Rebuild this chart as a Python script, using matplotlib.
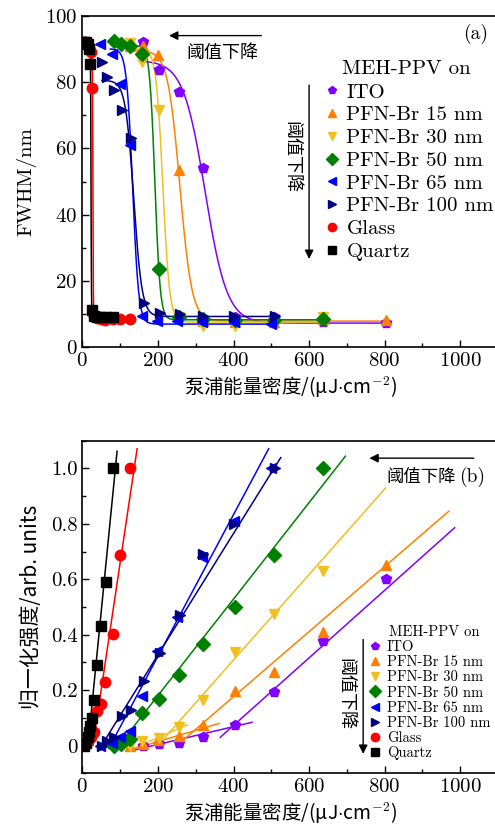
import numpy as np
import matplotlib
matplotlib.use('Agg')
import matplotlib.pyplot as plt
from matplotlib.lines import Line2D
from matplotlib.ticker import MultipleLocator

plt.rcParams['font.family'] = ['cmr10', 'Noto Sans CJK SC']
plt.rcParams['mathtext.fontset'] = 'cm'
plt.rcParams['axes.formatter.use_mathtext'] = True
plt.rcParams['axes.unicode_minus'] = False

# series: MEH-PPV on ...
names = ['ITO', 'PFN-Br 15 nm', 'PFN-Br 30 nm', 'PFN-Br 50 nm',
         'PFN-Br 65 nm', 'PFN-Br 100 nm', 'Glass', 'Quartz']
colors = ['#8000ff', '#ff8000', '#f0c020', '#008000',
          '#0000ff', '#000080', '#ff0000', '#000000']
markers = ['p', '^', 'v', 'D', '<', '>', 'o', 's']

# pump fluence (uJ/cm2)
ito_x = [160, 203, 257, 319, 403, 506, 638, 804]
p15_x = [125, 160, 200, 256, 320, 403, 506, 638, 803]
p30_x = [127, 158, 202, 255, 319, 403, 506, 638]
p50_x = [83, 102, 127, 158, 203, 255, 320, 403, 506, 638]
p65_x = [48, 78, 100, 125, 158, 197, 250, 317, 400, 500]
p100_x = [52, 65, 83, 105, 130, 162, 205, 259, 319, 400, 510]
glass_x = [4, 8, 13, 17, 22, 26, 30, 39, 50, 61, 80, 100, 127]
quartz_x = [5, 10, 14, 17, 21, 25, 31, 38, 50, 62, 80]

# FWHM (nm)
ito_fwhm = [92, 83.5, 77, 54, 9.2, 9.0, 7.6, 7.2]
p15_fwhm = [91, 91, 88, 53.5, 8.0, 7.7, 7.7, 8.5, 8.3]
p30_fwhm = [91.7, 86, 71.5, 9.0, 6.4, 6.5, 7.5, 9.2]
p50_fwhm = [92.5, 91.5, 91, 88.5, 23.6, 9.0, 8.5, 8.2, 8.3, 8.5]
p65_fwhm = [91.5, 88.5, 79.5, 61, 9.4, 7.9, 7.9, 7.5, 7.5, 7.0]
p100_fwhm = [86, 81.5, 77.6, 71.6, 63.2, 13.4, 10.4, 9.9, 9.4, 9.4, 9.4]
glass_fwhm = [92, 92, 91.7, 90.5, 89, 78.3, 9.5, 8.8, 8.5, 8.3, 8.5, 8.6, 8.4]
quartz_fwhm = [92, 92, 91.5, 90, 85.5, 11.2, 9.5, 9.2, 9.0, 9.0, 9.0]

# normalized intensity
ito_int = [0.0, 0.004, 0.01, 0.03, 0.076, 0.195, 0.377, 0.60]
p15_int = [0.0, 0.005, 0.02, 0.036, 0.076, 0.196, 0.265, 0.41, 0.65]
p30_int = [0.0, 0.018, 0.028, 0.066, 0.165, 0.337, 0.475, 0.63]
p50_int = [0.0, 0.006, 0.024, 0.117, 0.168, 0.253, 0.367, 0.50, 0.686, 1.0]
p65_int = [0.0, 0.01, 0.03, 0.054, 0.18, 0.343, 0.463, 0.68, 0.812, 1.0]
p100_int = [0.0, 0.018, 0.03, 0.108, 0.13, 0.232, 0.334, 0.47, 0.69, 0.80, 1.0]
glass_int = [0.005, 0.01, 0.02, 0.025, 0.03, 0.04, 0.048, 0.126, 0.15,
             0.229, 0.403, 0.686, 1.0]
quartz_int = [0.0, 0.01, 0.03, 0.05, 0.07, 0.10, 0.165, 0.289, 0.43, 0.59, 1.0]

xs = [ito_x, p15_x, p30_x, p50_x, p65_x, p100_x, glass_x, quartz_x]
fwhms = [ito_fwhm, p15_fwhm, p30_fwhm, p50_fwhm, p65_fwhm, p100_fwhm,
         glass_fwhm, quartz_fwhm]
ints = [ito_int, p15_int, p30_int, p50_int, p65_int, p100_int,
        glass_int, quartz_int]

# Boltzmann fits of FWHM: A1, A2, x0, dx, x range
fit_a1 = [86.5, 89.5, 90, 91, 90, 80.5, 92, 92]
fit_a2 = [7.3, 7.9, 7.6, 8.3, 7.0, 9.3, 8.5, 9.0]
fit_x0 = [325, 258, 213, 192, 133, 136, 28, 23]
fit_dx = [29, 16, 9, 7, 8, 11, 0.6, 0.6]
fit_from = [160, 127, 130, 110, 74, 52, 12, 10]
fit_to = [804, 803, 638, 638, 500, 510, 127, 80]

# linear fits of intensity, above and below threshold (x pair, y pair)
hi_x = [[365, 985], [250, 970], [200, 802], [85, 696], [70, 493], [48, 525],
        [28, 145], [15, 92]]
hi_y = [[0.03, 0.786], [0.0, 0.846], [0.0, 0.929], [-0.02, 1.044],
        [-0.01, 1.071], [-0.006, 1.039], [0.0, 1.071], [0.0, 1.062]]
lo_x = [[125, 449], [115, 362], [118, 278], [45, 140], [45, 140], [45, 125],
        [0, 30], [0, 22]]
lo_y = [[-0.02, 0.084], [-0.02, 0.08], [-0.02, 0.075], [-0.01, 0.03],
        [-0.01, 0.05], [-0.005, 0.04], [0.0, 0.04], [0.0, 0.06]]

fig = plt.figure(figsize=(4.95, 8.27), dpi=100)
W, H = 495, 827
ax1 = fig.add_axes([82.3 / W, (H - 347.3) / H, 415.8 / W, 331.6 / H])
ax2 = fig.add_axes([82.3 / W, (H - 773.3) / H, 415.8 / W, 332.6 / H])

tick_fs = 15
cjk = ['Noto Sans CJK SC', 'cmr10']
xlab = '泵浦能量密度/(μJ$\\cdot$cm$^{-2}$)'

for i in range(len(names)):
    x0, dx, a1, a2 = fit_x0[i], fit_dx[i], fit_a1[i], fit_a2[i]
    xf = np.linspace(fit_from[i], fit_to[i], 600)
    yf = a2 + (a1 - a2) / (1 + np.exp(np.clip((xf - x0) / dx, -50, 50)))
    ax1.plot(xf, yf, color=colors[i], lw=1.1, zorder=2)
for i in range(len(names)):
    ax1.plot(xs[i], fwhms[i], ls='none', marker=markers[i], color=colors[i],
             ms=7.5, zorder=3)

for i in range(len(names)):
    ax2.plot(hi_x[i], hi_y[i], color=colors[i], lw=1.1, zorder=2)
    ax2.plot(lo_x[i], lo_y[i], color=colors[i], lw=1.1, zorder=2)
for i in range(len(names)):
    ax2.plot(xs[i], ints[i], ls='none', marker=markers[i], color=colors[i],
             ms=7.5, zorder=3)

for ax in (ax1, ax2):
    ax.set_xlim(0, 1100)
    ax.xaxis.set_major_locator(MultipleLocator(200))
    ax.xaxis.set_minor_locator(MultipleLocator(100))
    ax.tick_params(which='both', direction='in', labelsize=tick_fs,
                   top=False, right=False)
    ax.tick_params(which='major', length=5, width=1)
    ax.tick_params(which='minor', length=3, width=1)
    for s in ax.spines.values():
        s.set_linewidth(1.2)
    ax.set_xlabel(xlab, fontsize=14, family=cjk, labelpad=3)

ax1.set_ylim(0, 100)
ax1.yaxis.set_major_locator(MultipleLocator(20))
ax1.yaxis.set_minor_locator(MultipleLocator(10))
ax1.set_ylabel('FWHM/nm', fontsize=15, labelpad=6)

ax2.set_ylim(-0.1, 1.1)
ax2.yaxis.set_major_locator(MultipleLocator(0.2))
ax2.yaxis.set_minor_locator(MultipleLocator(0.1))
ax2.yaxis.set_major_formatter(
    matplotlib.ticker.FuncFormatter(lambda v, p: '0' if abs(v) < 1e-9 else f'{v:.1f}'))
ax2.set_ylabel('归一化强度/arb. units', fontsize=15, family=cjk, labelpad=6)

arrow = dict(arrowstyle='-|>', lw=1.0, color='black', mutation_scale=13)

# panel (a) annotations
ax1.annotate('', xy=(222, 94), xytext=(481, 94), arrowprops=arrow)
ax1.text(370, 88.7, '阈值下降', fontsize=13, family=cjk, ha='center', va='center')
ax1.text(1040, 94.6, '(a)', fontsize=14, ha='center', va='center')
ax1.annotate('', xy=(600, 25.8), xytext=(600, 79.9), arrowprops=arrow)
ax1.text(554, 57.5, '阈值下降', fontsize=13, family=cjk, rotation=-90,
         ha='center', va='center')
ax1.text(0.625, 0.84, 'MEH-PPV on', fontsize=15, transform=ax1.transAxes,
         ha='left', va='center')
h1 = [Line2D([], [], ls='none', marker=markers[i], color=colors[i], ms=6)
      for i in range(len(names))]
ax1.legend(h1, names, loc='upper left', bbox_to_anchor=(0.58, 0.797),
           frameon=False, fontsize=15, handlelength=0.8, handletextpad=0.3,
           labelspacing=0.2, borderaxespad=0, borderpad=0)

# panel (b) annotations
ax2.annotate('', xy=(752, 1.037), xytext=(1043, 1.037), arrowprops=arrow)
ax2.text(805, 0.968, '阈值下降', fontsize=12.5, family=cjk, ha='left', va='center')
ax2.text(1030, 0.968, '(b)', fontsize=14, ha='center', va='center')
ax2.annotate('', xy=(743, -0.04), xytext=(743, 0.393), arrowprops=arrow)
ax2.text(697, 0.187, '阈值下降', fontsize=13, family=cjk, rotation=-90,
         ha='center', va='center')
ax2.text(0.738, 0.423, 'MEH-PPV on', fontsize=10.5, transform=ax2.transAxes,
         ha='left', va='center')
h2 = [Line2D([], [], ls='none', marker=markers[i], color=colors[i], ms=6)
      for i in range(len(names))]
ax2.legend(h2, names, loc='upper left', bbox_to_anchor=(0.69, 0.40),
           frameon=False, fontsize=10.5, handlelength=0.8, handletextpad=0.4,
           labelspacing=0.1, borderaxespad=0, borderpad=0)

fig.savefig('out.png', dpi=100)
